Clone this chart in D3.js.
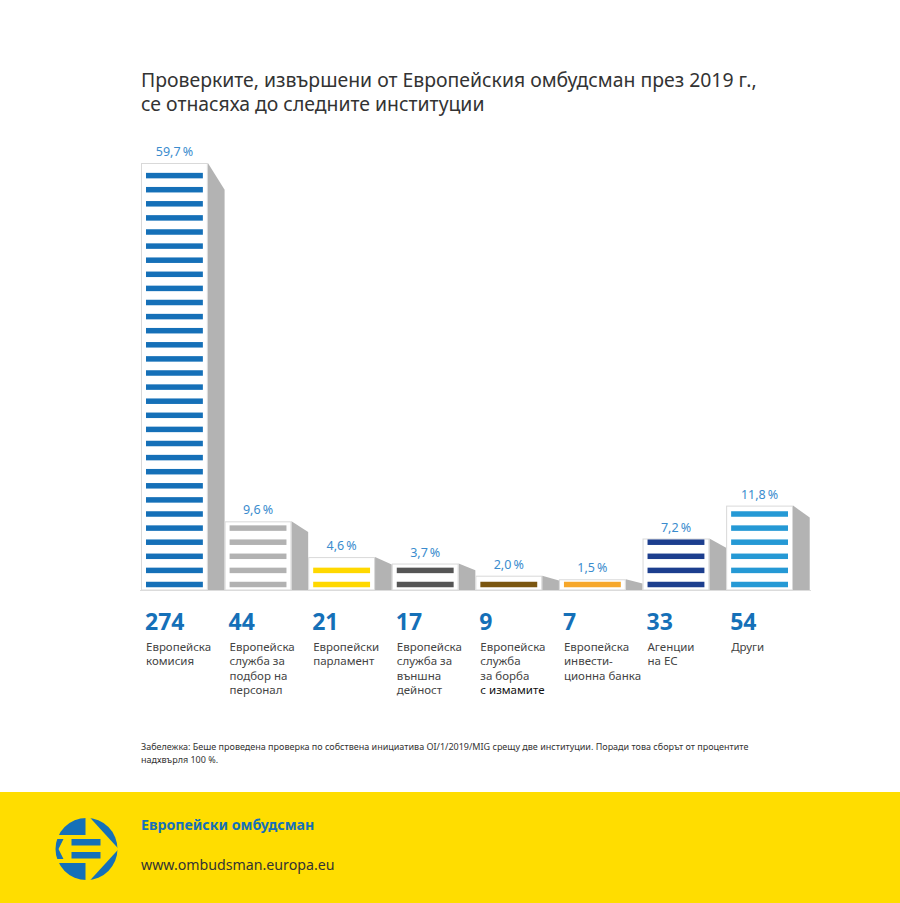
<!DOCTYPE html>
<html>
<head>
<meta charset="utf-8">
<script src="https://cdn.jsdelivr.net/npm/d3@7/dist/d3.min.js"></script>
<style>
  body { margin: 0; background: #fff; }
  svg { display: block; font-family: "Noto Sans", "Open Sans", sans-serif; }
</style>
</head>
<body>
<div id="chart"></div>
<script>
// Данни
const counts = [274, 44, 21, 17, 9, 7, 33, 54];
const percents = [59.7, 9.6, 4.6, 3.7, 2.0, 1.5, 7.2, 11.8];
const labels = [
    ["Европейска", "комисия"],
    ["Европейска", "служба за", "подбор на", "персонал"],
    ["Европейски", "парламент"],
    ["Европейска", "служба за", "външна", "дейност"],
    ["Европейска", "служба", "за борба", "с измамите"],
    ["Европейска", "инвести-", "ционна банка"],
    ["Агенции", "на ЕС"],
    ["Други"]
];
const stripeColors = ["#1570b8", "#b2b2b2", "#ffd800", "#555555", "#7b5610", "#f6a72a", "#1c3e8e", "#2599d5"];

const W = 900, H = 903;
const base = 590;

const svg = d3.select("#chart").append("svg")
    .attr("width", W)
    .attr("height", H);

svg.append("rect").attr("width", W).attr("height", H).attr("fill", "#fff");

// Заглавие
const title = svg.append("text")
    .attr("x", 141)
    .attr("y", 87)
    .attr("font-size", 19.4)
    .attr("fill", "#333");
title.append("tspan").attr("x", 141).text("Проверките, извършени от Европейския омбудсман през 2019 г.,");
title.append("tspan").attr("x", 141).attr("dy", 24).text("се отнасяха до следните институции");

// Скали
const x = d3.scaleBand()
    .domain(d3.range(counts.length))
    .range([141, 793])
    .paddingInner(0.2)
    .paddingOuter(0);

const y = d3.scaleLinear()
    .domain([0, 59.7])
    .range([base, 163]);

const bw = x.bandwidth();
const shadowW = x.step() - bw;

// базова линия
svg.append("line")
    .attr("x1", 140).attr("x2", 811)
    .attr("y1", base + 0.5).attr("y2", base + 0.5)
    .attr("stroke", "#dcdcdc");

const bars = svg.selectAll(".bar")
    .data(percents)
    .enter()
    .append("g")
    .attr("class", "bar");

// сянка
bars.append("path")
    .attr("fill", "#b3b3b3")
    .attr("d", (d, i) => {
        const x0 = x(i) + bw, top = y(d), h = base - top;
        const dy = 1.3 * Math.sqrt(h);
        return `M${x0},${top}L${x0 + shadowW},${top + dy}L${x0 + shadowW},${base}L${x0},${base}Z`;
    });

// бяла кутия
bars.append("rect")
    .attr("x", (d, i) => x(i) + 0.5)
    .attr("y", d => y(d) + 0.5)
    .attr("width", bw - 1)
    .attr("height", d => base - y(d) - 0.5)
    .attr("fill", "#fff")
    .attr("stroke", "#d9d9d9");

// ивици
bars.each(function (d, i) {
    const h = base - y(d);
    const n = Math.max(1, Math.round((h - 2) / 14));
    d3.select(this).selectAll(".stripe")
        .data(d3.range(n))
        .enter()
        .append("rect")
        .attr("class", "stripe")
        .attr("x", x(i) + 5)
        .attr("y", k => base - 5.5 - k * 14.1 - 2.75)
        .attr("width", bw - 10)
        .attr("height", 5.5)
        .attr("fill", stripeColors[i]);
});

// проценти
bars.append("text")
    .attr("x", (d, i) => x(i) + bw / 2)
    .attr("y", d => y(d) - 7)
    .attr("text-anchor", "middle")
    .attr("font-size", 12.5)
    .attr("fill", "#3a8cce")
    .text(d => d.toFixed(1).replace(".", ",") + "\u2009%");

// бройки
svg.selectAll(".count")
    .data(counts)
    .enter()
    .append("text")
    .attr("class", "count")
    .attr("x", (d, i) => x(i) + 4)
    .attr("y", 630)
    .attr("font-size", 23)
    .attr("font-weight", "bold")
    .attr("fill", "#1570b8")
    .text(d => d);

// имена
const names = svg.selectAll(".name")
    .data(labels)
    .enter()
    .append("text")
    .attr("class", "name")
    .attr("x", (d, i) => x(i) + 5)
    .attr("y", 651)
    .attr("font-size", 11.5)
    .attr("fill", "#444");

names.each(function (lines, i) {
    d3.select(this).selectAll("tspan")
        .data(lines)
        .enter()
        .append("tspan")
        .attr("x", x(i) + 5)
        .attr("dy", (t, j) => j === 0 ? 0 : 14.4)
        .attr("fill", (t, j) => (i === 4 && j === 3) ? "#111" : "#444")
        .text(t => t);
});

// бележка
const note = svg.append("text")
    .attr("x", 141)
    .attr("y", 750)
    .attr("font-size", 9)
    .attr("fill", "#333");
note.append("tspan").attr("x", 141).text("Забележка: Беше проведена проверка по собствена инициатива OI/1/2019/MIG срещу две институции. Поради това сборът от процентите");
note.append("tspan").attr("x", 141).attr("dy", 12.5).text("надхвърля 100 %.");

// долна жълта лента
svg.append("rect")
    .attr("x", 0).attr("y", 792)
    .attr("width", W).attr("height", H - 792)
    .attr("fill", "#ffdd00");

svg.append("text")
    .attr("x", 141).attr("y", 830)
    .attr("font-size", 14.2)
    .attr("font-weight", "bold")
    .attr("fill", "#1570b8")
    .text("Европейски омбудсман");

svg.append("text")
    .attr("x", 141).attr("y", 870)
    .attr("font-size", 14.2)
    .attr("fill", "#333")
    .text("www.ombudsman.europa.eu");

// лого
const cx = 86.5, cy = 849, r = 31;
svg.append("clipPath").attr("id", "logoClip")
    .append("circle").attr("cx", cx).attr("cy", cy).attr("r", r);
const logo = svg.append("g").attr("clip-path", "url(#logoClip)").attr("fill", "#1570b8");
// горе ляво
logo.append("rect").attr("x", cx - r).attr("y", cy - r).attr("width", r - 1).attr("height", r - 14);
// долу ляво
logo.append("rect").attr("x", cx - r).attr("y", cy + 14).attr("width", r - 1).attr("height", r - 14);
// горе дясно
logo.append("path").attr("d", `M${cx + 2},${cy - r - 2}L${cx + r + 2},${cy - r - 2}L${cx + r + 2},${cy + 1}Z`);
// долу дясно
logo.append("path").attr("d", `M${cx + 2},${cy + r + 2}L${cx + r + 2},${cy + r + 2}L${cx + r + 2},${cy - 1}Z`);
// хоризонтални ленти
logo.append("rect").attr("x", cx - 15).attr("y", cy - 10).attr("width", 29).attr("height", 6.5);
logo.append("rect").attr("x", cx - 15).attr("y", cy + 3).attr("width", 29).attr("height", 6.5);
// ляв шеврон
logo.append("path").attr("d", `M${cx - r - 2},${cy - 10}L${cx - 23},${cy - 10}L${cx - 28},${cy}L${cx - 23},${cy + 10}L${cx - r - 2},${cy + 10}Z`);
</script>
</body>
</html>
